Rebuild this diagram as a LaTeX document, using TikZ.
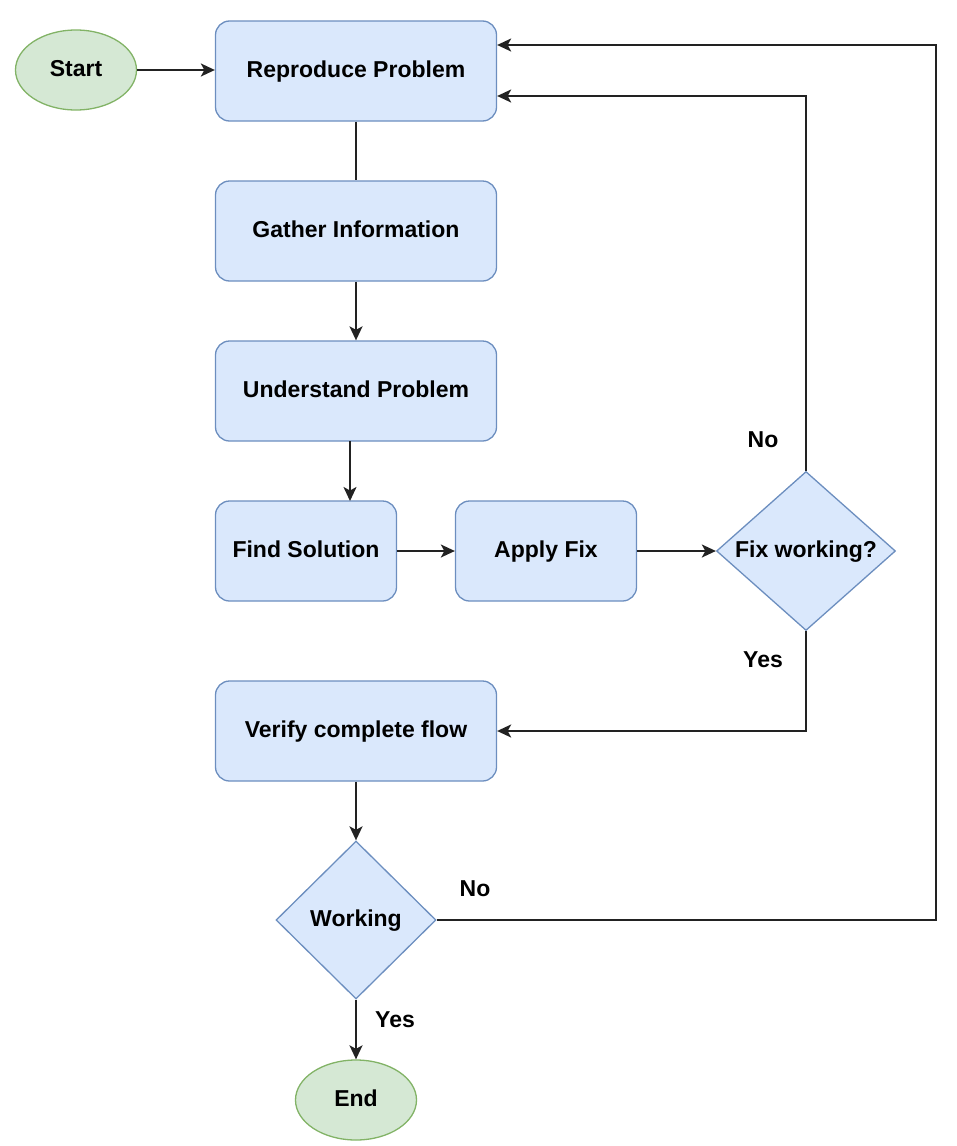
\documentclass[tikz,border=0pt]{standalone}
\usepackage{fontspec}
\setmainfont{Liberation Sans}
\usetikzlibrary{shapes.geometric,arrows.meta}
\definecolor{bfill}{HTML}{DAE8FC}
\definecolor{bdraw}{HTML}{6C8EBF}
\definecolor{gfill}{HTML}{D5E8D4}
\definecolor{gdraw}{HTML}{82B366}
\definecolor{lcol}{HTML}{222222}
\tikzset{
  base/.style={font=\fontsize{23}{27}\selectfont\bfseries, text=black, inner sep=0pt, line width=1.3pt, text height=17pt, text depth=5pt},
  procbox/.style={base, rectangle, rounded corners=14pt, fill=bfill, draw=bdraw, minimum height=100pt},
  termnode/.style={base, ellipse, fill=gfill, draw=gdraw, minimum width=121pt, minimum height=80pt},
  decnode/.style={base, diamond, fill=bfill, draw=bdraw, aspect=1},
  conn/.style={draw=lcol, line width=2pt},
  arr/.style={conn, -{Stealth[length=14pt,width=13pt,inset=3.5pt]}},
  lbl/.style={font=\fontsize{23}{27}\selectfont\bfseries, text=black, inner sep=0pt}
}
\begin{document}
\begin{tikzpicture}[x=1pt,y=-1pt]
\useasboundingbox (0,0) rectangle (956,1146);
\node[termnode] (start) at (76,70) {Start};
\node[procbox, minimum width=281pt] (rep) at (356,71) {Reproduce Problem};
\node[procbox, minimum width=281pt] (gat) at (356,231) {Gather Information};
\node[procbox, minimum width=281pt] (und) at (356,391) {Understand Problem};
\node[procbox, minimum width=181pt] (fin) at (306,551) {Find Solution};
\node[procbox, minimum width=181pt] (app) at (546,551) {Apply Fix};
\node[decnode, minimum width=179pt, minimum height=159pt, aspect=1.125] (fw) at (806,551) {Fix working?};
\node[procbox, minimum width=281pt] (ver) at (356,731) {Verify complete flow};
\node[decnode, minimum width=160pt, minimum height=158pt] (wk) at (356,920) {Working};
\node[termnode] (end) at (356,1100) {End};

\coordinate (fwtop) at (806,96);
\coordinate (fwbot) at (806,731);
\coordinate (rtop) at (936,45);
\coordinate (rbot) at (936,920);
\coordinate (undout) at (350,441);
\coordinate (finin) at (350,501);

\draw[arr] (start.east) -- (start.east -| rep.west);
\draw[conn] (rep) -- (gat);
\draw[arr] (gat) -- (und);
\draw[arr] (undout) -- (finin);
\draw[arr] (fin) -- (app);
\draw[arr] (app) -- (fw);
\draw[arr] (fw.north) -- (fwtop) -- (rep.east |- fwtop);
\draw[arr] (fw.south) -- (fwbot) -- (ver.east |- fwbot);
\draw[arr] (ver) -- (wk);
\draw[arr] (wk.east) -- (rbot) -- (rtop) -- (rep.east |- rtop);
\draw[arr] (wk) -- (end);

\node[lbl] (no1) at (763,440) {No};
\node[lbl] (yes1) at (763,660) {Yes};
\node[lbl] (no2) at (475,889) {No};
\node[lbl] (yes2) at (395,1020) {Yes};
\end{tikzpicture}
\end{document}
